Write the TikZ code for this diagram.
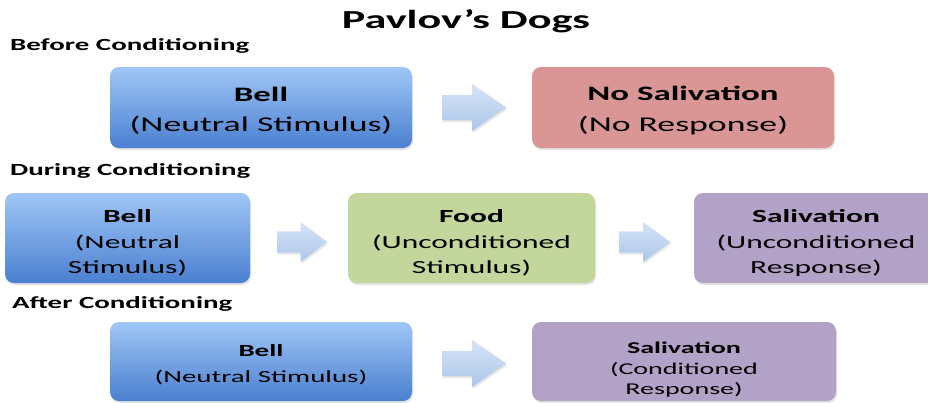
\documentclass[tikz,border=0pt]{standalone}
\usepackage{fontspec}
\setmainfont{Carlito}[FakeStretch=1.7]
\usetikzlibrary{shadows,calc}
\definecolor{blueT}{RGB}{160,198,246}
\definecolor{blueB}{RGB}{74,128,208}
\definecolor{redF}{RGB}{217,150,148}
\definecolor{greenF}{RGB}{195,214,155}
\definecolor{purpleF}{RGB}{179,162,199}
\definecolor{arrT}{RGB}{214,228,246}
\definecolor{arrB}{RGB}{172,198,234}
\tikzset{
  box/.style={rectangle, rounded corners=9pt, draw=none, inner sep=0pt,
    drop shadow={opacity=0.22, shadow xshift=1pt, shadow yshift=-2pt}},
  bluebox/.style={box, top color=blueT, bottom color=blueB},
  redbox/.style={box, fill=redF},
  greenbox/.style={box, fill=greenF},
  purplebox/.style={box, fill=purpleF},
  hd/.style={anchor=base, inner sep=0pt, font=\bfseries\fontsize{#1}{#1}\selectfont},
  tx/.style={anchor=base, inner sep=0pt, font=\fontsize{#1}{#1}\selectfont},
  barrow/.pic={
    \path[top color=arrT, bottom color=arrB,
      drop shadow={opacity=0.18, shadow xshift=1pt, shadow yshift=-2pt}]
      (0,-12.5) -- (30,-12.5) -- (30,-23.5) -- (64,0) -- (30,23.5) -- (30,12.5) -- (0,12.5) -- cycle;
  }
}
\begin{document}
\begin{tikzpicture}[x=1pt,y=-1pt]
\useasboundingbox[fill=white] (0,0) rectangle (928,402);

% title and section labels
\node[hd=26] (title) at (466,28) {Pavlov’s Dogs};
\node[hd=17, anchor=base west] (sec1) at (10,50) {Before Conditioning};
\node[hd=17, anchor=base west] (sec2) at (10,175) {During Conditioning};
\node[hd=17, anchor=base west] (sec3) at (12,308) {After Conditioning};

% row 1
\node[bluebox, minimum width=302pt, minimum height=81pt] (b1) at (261,107.5) {};
\node[redbox, minimum width=302pt, minimum height=81pt] (n1) at (683,107.5) {};
\node[hd=20.5] (b1a) at (261,101) {Bell};
\node[tx=21] (b1b) at (261,131.5) {(Neutral Stimulus)};
\node[hd=20.5] (n1a) at (683,100) {No Salivation};
\node[tx=21] (n1b) at (683,131.5) {(No Response)};
\path (b1.east) ++(30,0) pic{barrow};

% row 2
\node[bluebox, minimum width=245pt, minimum height=90pt] (b2) at (127.5,238) {};
\node[greenbox, minimum width=247pt, minimum height=90pt] (f2) at (471.5,238) {};
\node[purplebox, minimum width=244pt, minimum height=90pt] (s2) at (816,238) {};
\node[hd=18.5] (b2a) at (127.5,222) {Bell};
\node[tx=18.5] (b2b) at (127.5,248) {(Neutral};
\node[tx=18.5] (b2c) at (127.5,273) {Stimulus)};
\node[hd=18.5] (f2a) at (471.5,222) {Food};
\node[tx=18.5] (f2b) at (471.5,248) {(Unconditioned};
\node[tx=18.5] (f2c) at (471.5,273) {Stimulus)};
\node[hd=18.5] (s2a) at (816,222) {Salivation};
\node[tx=18.5] (s2b) at (816,248) {(Unconditioned};
\node[tx=18.5] (s2c) at (816,273) {Response)};
\path (b2.east) ++(27,4) pic[xscale=0.78, yscale=0.85]{barrow};
\path (f2.east) ++(24,4) pic[xscale=0.8, yscale=0.85]{barrow};

% row 3
\node[bluebox, minimum width=302pt, minimum height=79pt] (b3) at (261,361.5) {};
\node[purplebox, minimum width=304pt, minimum height=79pt] (s3) at (684,361.5) {};
\node[hd=17] (b3a) at (261,356) {Bell};
\node[tx=17] (b3b) at (261,382) {(Neutral Stimulus)};
\node[hd=16.5] (s3a) at (684,353) {Salivation};
\node[tx=16.5] (s3b) at (684,374) {(Conditioned};
\node[tx=16.5] (s3c) at (684,394) {Response)};
\path (b3.east) ++(30,2) pic{barrow};
\end{tikzpicture}
\end{document}
